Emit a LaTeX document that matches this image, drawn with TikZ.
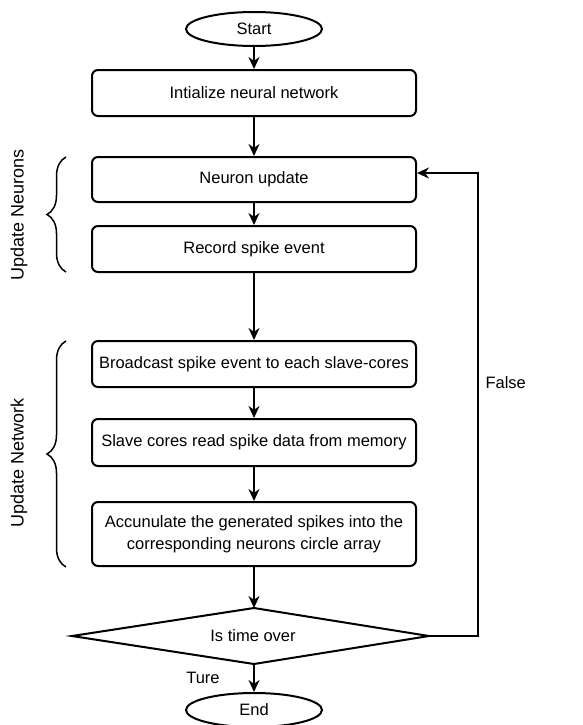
\documentclass[tikz,border=0pt]{standalone}
\usepackage{fontspec}
\setmainfont{Liberation Sans}
\usetikzlibrary{shapes.geometric,arrows.meta,decorations.pathreplacing}
\begin{document}
\begin{tikzpicture}[x=1pt,y=-1pt,
  txt/.style={font=\fontsize{16.5}{22}\selectfont},
  box/.style={txt,draw,rounded corners=6pt,minimum width=324pt,minimum height=46pt,line width=2pt,align=center,inner sep=0pt},
  term/.style={txt,draw,ellipse,minimum width=136pt,minimum height=34pt,line width=2pt,inner sep=0pt},
  arr/.style={-{Stealth[length=12pt,width=11pt]},line width=2pt},
  brc/.style={decorate,decoration={brace,amplitude=19pt},line width=1.5pt},
  side/.style={font=\fontsize{18}{20}\selectfont,rotate=90}]
\useasboundingbox (0,0) rectangle (582,725);
\node[term] (start) at (254,29) {Start};
\node[box] (init) at (254,93) {Intialize neural network};
\node[box,minimum height=45pt] (nu) at (254,179.5) {Neuron update};
\node[box] (rec) at (254,249) {Record spike event};
\node[box] (bc) at (254,364) {Broadcast spike event to each slave-cores};
\node[box,minimum height=47pt] (sc) at (254,442.5) {Slave cores read spike data from memory};
\node[box,minimum height=64pt] (acc) at (254,534) {Accunulate the generated spikes into the\\corresponding neurons circle array};
\coordinate (dt) at (254,608);
\coordinate (dr) at (429,636);
\coordinate (db) at (254,664);
\coordinate (dl) at (72,636);
\draw[line width=2pt,line join=miter] (dt) -- (dr) -- (db) -- (dl) -- cycle;
\node[txt] (dia) at (253,636) {Is time over};
\node[term] (end) at (254,710) {End};
\coordinate (lp) at (478,173);
\draw[arr] (start) -- (init);
\draw[arr] (init) -- (nu);
\draw[arr] (nu) -- (rec);
\draw[arr] (rec) -- (bc);
\draw[arr] (bc) -- (sc);
\draw[arr] (sc) -- (acc);
\draw[arr] (acc.south) -- (dt);
\draw[arr] (db) -- (end);
\draw[arr] (dr) -| (lp) -- (lp -| nu.east);
\node[txt,anchor=west] (false) at (482,383) {False};
\node[txt] (ture) at (203,678) {Ture};
\draw[brc] (66,272) -- (66,157);
\draw[brc] (66,567) -- (66,341);
\node[side] (un) at (19,215) {Update Neurons};
\node[side] (unw) at (19,463) {Update Network};
\end{tikzpicture}
\end{document}
